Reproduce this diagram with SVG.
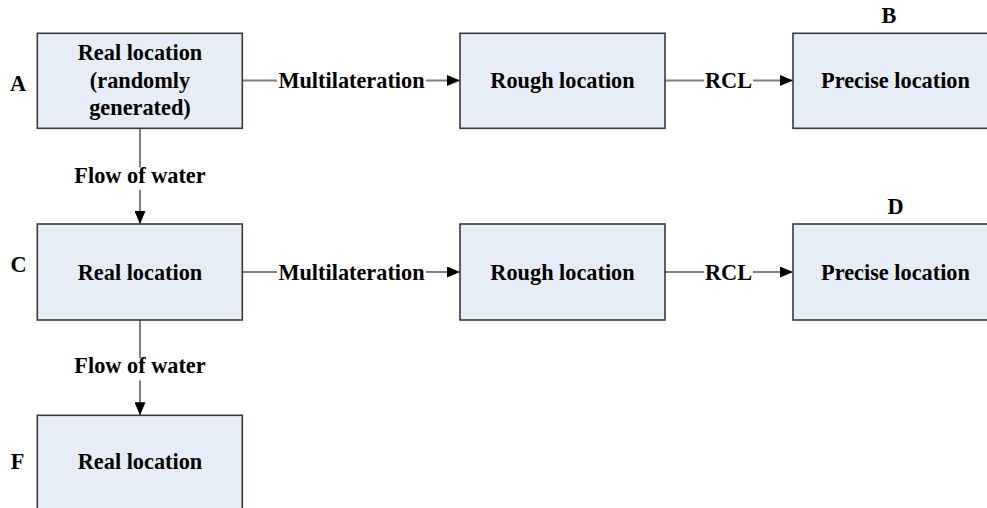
<svg xmlns="http://www.w3.org/2000/svg" width="987" height="508" viewBox="0 0 987 508">
<defs>
<marker id="arr" markerUnits="userSpaceOnUse" markerWidth="13" markerHeight="11" refX="13" refY="5.5" orient="auto">
<path d="M0,0 L13,5.5 L0,11 z" fill="#000"/>
</marker>
</defs>
<style>
.box{fill:#e7edf7;stroke:#3a3a3a;stroke-width:1.6}
.t{font-family:"Liberation Serif","Times New Roman",serif;font-weight:bold;font-size:22.3px;fill:#000;text-anchor:middle}
.ln{fill:none;stroke:#7f7f7f;stroke-width:2}
.ar{fill:none;stroke:#7f7f7f;stroke-width:2;marker-end:url(#arr)}
</style>
<rect width="987" height="508" fill="#fff"/>
<g id="connectors">
<line class="ln" x1="242" y1="80.5" x2="277" y2="80.5"/>
<line class="ar" x1="426" y1="80.5" x2="460" y2="80.5"/>
<text class="t" x="351.5" y="88">Multilateration</text>
<line class="ln" x1="665" y1="80.5" x2="704" y2="80.5"/>
<line class="ar" x1="753" y1="80.5" x2="793" y2="80.5"/>
<text class="t" x="728.5" y="88">RCL</text>
<line class="ln" x1="242" y1="272" x2="277" y2="272"/>
<line class="ar" x1="426" y1="272" x2="460" y2="272"/>
<text class="t" x="351.5" y="279.5">Multilateration</text>
<line class="ln" x1="665" y1="272" x2="704" y2="272"/>
<line class="ar" x1="753" y1="272" x2="793" y2="272"/>
<text class="t" x="728.5" y="279.5">RCL</text>
<line class="ln" x1="140" y1="128" x2="140" y2="167.5"/>
<line class="ar" x1="140" y1="190" x2="140" y2="224"/>
<text class="t" x="140" y="182.7">Flow of water</text>
<line class="ln" x1="140" y1="320" x2="140" y2="358"/>
<line class="ar" x1="140" y1="380.5" x2="140" y2="415.3"/>
<text class="t" x="140" y="373.3">Flow of water</text>
</g>
<g id="A">
<rect class="box" x="37.3" y="33.3" width="205" height="95"/>
<text class="t" x="140" y="60">Real location</text>
<text class="t" x="140" y="87.5">(randomly</text>
<text class="t" x="140" y="115">generated)</text>
<text class="t" x="18" y="90.5">A</text>
</g>
<g id="A-rough">
<rect class="box" x="460" y="33.3" width="205" height="95"/>
<text class="t" x="562.5" y="88">Rough location</text>
</g>
<g id="B">
<rect class="box" x="793" y="33.3" width="205" height="95"/>
<text class="t" x="895.5" y="88">Precise location</text>
<text class="t" x="889" y="23.3">B</text>
</g>
<g id="C">
<rect class="box" x="37.3" y="224" width="205" height="96"/>
<text class="t" x="140" y="279.5">Real location</text>
<text class="t" x="18.5" y="271.7">C</text>
</g>
<g id="C-rough">
<rect class="box" x="460" y="224" width="205" height="96"/>
<text class="t" x="562.5" y="279.5">Rough location</text>
</g>
<g id="D">
<rect class="box" x="793" y="224" width="205" height="96"/>
<text class="t" x="895.5" y="279.5">Precise location</text>
<text class="t" x="895.5" y="214">D</text>
</g>
<g id="F">
<rect class="box" x="37.3" y="415.3" width="205" height="96"/>
<text class="t" x="140" y="469.3">Real location</text>
<text class="t" x="17.5" y="469.3">F</text>
</g>
</svg>
